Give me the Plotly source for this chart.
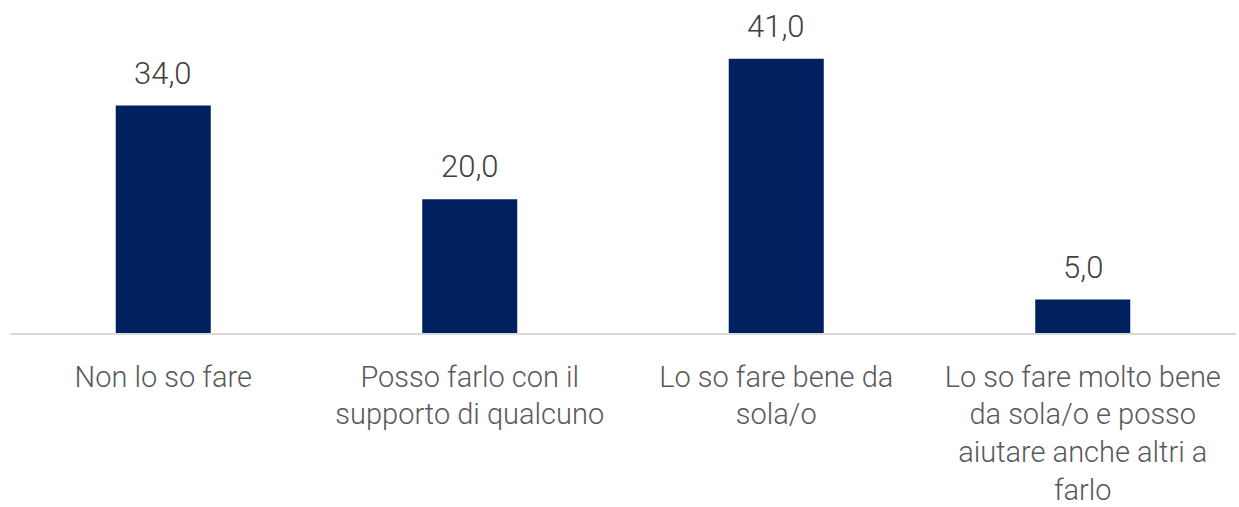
import plotly.graph_objects as go

categories = [
    "Non lo so fare",
    "Posso farlo con il<br>supporto di qualcuno",
    "Lo so fare bene da<br>sola/o",
    "Lo so fare molto bene<br>da sola/o e posso<br>aiutare anche altri a<br>farlo",
]
values = [34.0, 20.0, 41.0, 5.0]
value_labels = [f"{v:.1f}".replace(".", ",") for v in values]

fig = go.Figure()
fig.add_trace(go.Bar(
    x=categories,
    y=values,
    marker=dict(color="#002060", line=dict(width=0)),
    width=0.31,
    hoverinfo="skip",
))

for cat, v, lab in zip(categories, values, value_labels):
    fig.add_annotation(
        x=cat, y=v, text=lab, showarrow=False,
        yanchor="bottom", yshift=12,
        font=dict(family="Roboto", size=31, color="#404040", weight=300),
    )

fig.update_layout(
    width=1239, height=507,
    margin=dict(l=10, r=3, t=32, b=174),
    paper_bgcolor="white", plot_bgcolor="white",
    showlegend=False,
    font=dict(family="Roboto", size=29, color="#595959", weight=300),
)
fig.update_xaxes(
    showline=True, linecolor="#d9d9d9", linewidth=1.5,
    showgrid=False, ticks="outside", tickcolor="rgba(0,0,0,0)", ticklen=17,
    tickfont=dict(family="Roboto", size=29, color="#595959", weight=300),
    tickangle=0, automargin=False,
)
fig.update_yaxes(range=[0, 45], visible=False, showgrid=False, zeroline=False,
                 automargin=False)

fig.write_html("out.html")
